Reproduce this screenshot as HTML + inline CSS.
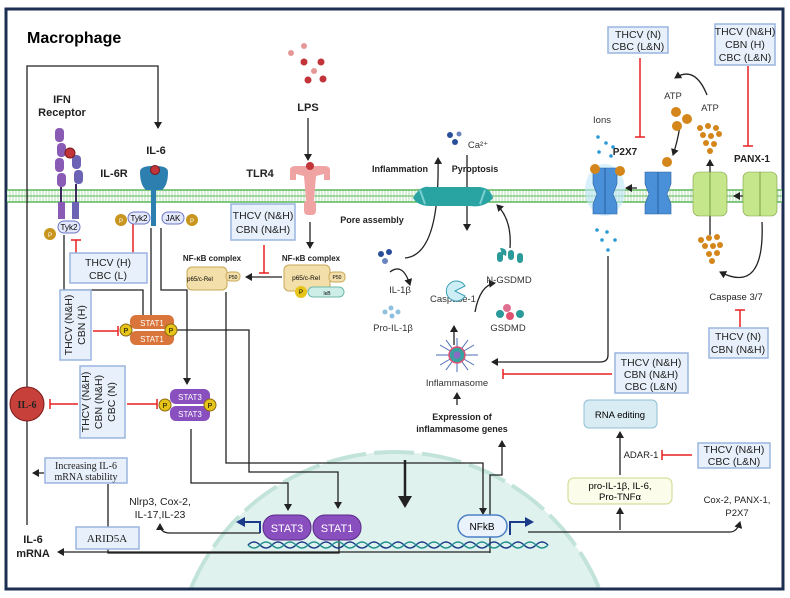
<!DOCTYPE html>
<html><head><meta charset="utf-8"><style>
html,body{margin:0;padding:0;background:#fff;width:790px;height:598px;overflow:hidden}
svg{display:block;font-family:"Liberation Sans",sans-serif}
.b{font-weight:bold}
</style></head><body>
<svg width="790" height="598" viewBox="0 0 790 598" xmlns="http://www.w3.org/2000/svg">
<defs>
<marker id="a" markerWidth="8" markerHeight="8" refX="6" refY="4" orient="auto" markerUnits="userSpaceOnUse"><path d="M0,0 L7,4 L0,8 z" fill="#222"/></marker>
<marker id="bl" markerWidth="10" markerHeight="10" refX="7" refY="5" orient="auto" markerUnits="userSpaceOnUse"><path d="M0,0 L9,5 L0,10 z" fill="#1a3a8a"/></marker>
<marker id="big" markerWidth="14" markerHeight="14" refX="10" refY="7" orient="auto" markerUnits="userSpaceOnUse"><path d="M0,0 L12,7 L0,14 z" fill="#222"/></marker>
<pattern id="hatch" width="3" height="10" patternUnits="userSpaceOnUse"><rect width="3" height="10" fill="#fff"/><line x1="1" y1="0" x2="1" y2="10" stroke="#9fd39f" stroke-width="0.8"/></pattern>
</defs>
<rect x="0" y="0" width="790" height="598" fill="#fff"/>
<!-- nucleus -->
<path d="M190.6,589 A221,221 0 0 1 599.4,589 Z" fill="#e0f2ee"/>
<path d="M190.6,589 A221,221 0 0 1 599.4,589" fill="none" stroke="#c2e3da" stroke-width="4" stroke-dasharray="40 8"/>
<!-- frame -->
<rect x="6" y="9" width="777" height="580" fill="none" stroke="#1c2f52" stroke-width="3"/>
<!-- membrane -->
<rect x="7" y="190" width="775" height="12" fill="url(#hatch)"/>
<line x1="7" y1="190" x2="782" y2="190" stroke="#5cb85c" stroke-width="1.5"/>
<line x1="7" y1="196" x2="782" y2="196" stroke="#5cb85c" stroke-width="1"/>
<line x1="7" y1="202" x2="782" y2="202" stroke="#5cb85c" stroke-width="1.5"/>

<text x="27" y="43" class="b" font-size="16">Macrophage</text>

<g fill="none" stroke="#222" stroke-width="1.3">
<polyline points="27,525 27,66 158,66 158,128" marker-end="url(#a)"/>
<line x1="308" y1="118" x2="308" y2="160" marker-end="url(#a)"/>
<line x1="310" y1="222" x2="310" y2="248" marker-end="url(#a)"/>
<line x1="282" y1="277" x2="246" y2="277" marker-end="url(#a)"/>
<polyline points="64,235 64,290 143,290 143,324" marker-end="url(#a)"/>
<polyline points="151,228 151,324" marker-end="url(#a)"/>
<polyline points="161,228 161,290 187,290 187,384" marker-end="url(#a)"/>
<polyline points="177,330 249,330 249,472 338,472 338,508" marker-end="url(#a)"/>
<polyline points="191,429 191,483 288,483 288,510" marker-end="url(#a)"/>
<polyline points="226,292 226,463 483,463 483,514" marker-end="url(#a)"/>
<polyline points="108,484 108,553 339,553 339,537"/>
<line x1="490" y1="552" x2="58" y2="552" marker-end="url(#a)"/>
<line x1="44" y1="473" x2="33" y2="473" marker-end="url(#a)"/>
<path d="M260,533 L170,533 Q160,533 160,524" marker-end="url(#a)"/>
<polyline points="490,515 490,475 502,475 502,441" marker-end="url(#a)"/>
<polyline points="490,537 490,553"/>
<line x1="457" y1="405" x2="457" y2="393" marker-end="url(#a)"/>
<line x1="454" y1="345" x2="454" y2="326" marker-end="url(#a)"/>
<path d="M608,256 L608,355 Q608,362 600,362 L492,362" marker-end="url(#a)"/>
<line x1="620" y1="530" x2="620" y2="508" marker-end="url(#a)"/>
<line x1="620" y1="475" x2="620" y2="432" marker-end="url(#a)"/>
<path d="M528,532 L730,532 Q737,532 740,522" marker-end="url(#a)"/>
<path d="M405,258 Q440,255 438,158" marker-end="url(#a)"/>
<line x1="467" y1="155" x2="467" y2="230" marker-end="url(#a)"/>
<path d="M390,272 Q403,262 410,285" marker-end="url(#a)"/>
<path d="M475,312 Q480,285 495,283" marker-end="url(#a)"/>
<path d="M510,248 Q512,220 497,205" marker-end="url(#a)"/>
<path d="M707,95 Q695,65 675,78" marker-end="url(#a)"/>
<path d="M680,125 Q678,140 673,155" marker-end="url(#a)"/>
<line x1="710" y1="235" x2="710" y2="160" marker-end="url(#a)"/>
<line x1="745" y1="196" x2="734" y2="196" marker-end="url(#a)"/>
<line x1="637" y1="188" x2="626" y2="188" marker-end="url(#a)"/>
<path d="M762,222 Q765,295 720,272" marker-end="url(#a)"/>
</g>
<line x1="405" y1="460" x2="405" y2="506" stroke="#222" stroke-width="2.5" marker-end="url(#big)"/>
<polyline points="260,533 260,522 238,522" fill="none" stroke="#1a3a8a" stroke-width="2" marker-end="url(#bl)"/>
<polyline points="510,535 510,522 532,522" fill="none" stroke="#1a3a8a" stroke-width="2" marker-end="url(#bl)"/>

<g stroke="#e82020" stroke-width="1.5" fill="none">
<path d="M76,253 V240 M71,240 H81"/>
<path d="M133,253 V218 M128,218 H138"/>
<path d="M93,331 H118 M118,326 V336"/>
<path d="M78,404 H50 M50,399 V409"/>
<path d="M127,404 H157 M157,399 V409"/>
<path d="M264,245 V273 M259,273 H269"/>
<path d="M640,58 V137 M635,137 H645"/>
<path d="M748,66 V146 M743,146 H753"/>
<path d="M612,374 H503 M503,369 V379"/>
<path d="M740,327 V310 M735,310 H745"/>
<path d="M692,455 H662 M662,450 V460"/>
</g>

<g fill="#e8f1fb" stroke="#9ab5df" stroke-width="1.5">
<rect x="70" y="253" width="77" height="30"/>
<rect x="60" y="290" width="31" height="70"/>
<rect x="80" y="366" width="45" height="72"/>
<rect x="231" y="204" width="64" height="36"/>
<rect x="608" y="27" width="60" height="26"/>
<rect x="715" y="24" width="60" height="41"/>
<rect x="615" y="353" width="73" height="40"/>
<rect x="709" y="328" width="59" height="30"/>
<rect x="698" y="443" width="72" height="25"/>
<rect x="45" y="458" width="82" height="25"/>
<rect x="76" y="527" width="63" height="22"/>
</g>
<g font-size="10.5" text-anchor="middle" fill="#222">
<text x="108" y="266">THCV (H)</text><text x="108" y="279">CBC (L)</text>
<text transform="translate(72,325) rotate(-90)">THCV (N&amp;H)</text><text transform="translate(85,325) rotate(-90)">CBN (H)</text>
<text transform="translate(89,402) rotate(-90)">THCV (N&amp;H)</text><text transform="translate(102,402) rotate(-90)">CBN (N&amp;H)</text><text transform="translate(115,402) rotate(-90)">CBC (N)</text>
<text x="263" y="219">THCV (N&amp;H)</text><text x="263" y="233">CBN (N&amp;H)</text>
<text x="638" y="38">THCV (N)</text><text x="638" y="50">CBC (L&amp;N)</text>
<text x="745" y="35">THCV (N&amp;H)</text><text x="745" y="48">CBN (H)</text><text x="745" y="61">CBC (L&amp;N)</text>
<text x="651" y="366">THCV (N&amp;H)</text><text x="651" y="378">CBN (N&amp;H)</text><text x="651" y="390">CBC (L&amp;N)</text>
<text x="738" y="340">THCV (N)</text><text x="738" y="353">CBN (N&amp;H)</text>
<text x="734" y="453">THCV (N&amp;H)</text><text x="734" y="465">CBC (L&amp;N)</text>
</g>
<g font-family="Liberation Serif,serif" font-size="10" text-anchor="middle" fill="#222">
<text x="86" y="469">Increasing IL-6</text><text x="86" y="480">mRNA stability</text>
<text x="107" y="542" font-size="11">ARID5A</text>
</g>

<g class="b" font-size="11" text-anchor="middle" fill="#222">
<text x="62" y="103">IFN</text><text x="62" y="116">Receptor</text>
<text x="156" y="154">IL-6</text><text x="114" y="177">IL-6R</text>
<text x="308" y="111">LPS</text><text x="260" y="177">TLR4</text>
<text x="33" y="543">IL-6</text><text x="33" y="557">mRNA</text>
<text x="625" y="155" font-size="10">P2X7</text><text x="752" y="162" font-size="10">PANX-1</text>
</g>
<g class="b" font-size="8" text-anchor="middle" fill="#222">
<text x="212" y="261">NF-κB complex</text><text x="311" y="261">NF-κB complex</text>
</g>
<g class="b" font-size="9" text-anchor="middle" fill="#222">
<text x="400" y="172">Inflammation</text><text x="475" y="172">Pyroptosis</text>
<text x="372" y="223">Pore assembly</text>
<text x="462" y="420">Expression of</text><text x="462" y="432">inflammasome genes</text>
</g>
<g font-size="9.5" text-anchor="middle" fill="#333">
<text x="478" y="148">Ca²⁺</text>
<text x="400" y="293">IL-1β</text><text x="393" y="331">Pro-IL-1β</text>
<text x="453" y="302">Caspase-1</text><text x="509" y="283">N-GSDMD</text><text x="508" y="331">GSDMD</text>
<text x="457" y="386">Inflammasome</text>
<text x="602" y="123">Ions</text><text x="673" y="99">ATP</text><text x="710" y="111">ATP</text>
<text x="736" y="300" fill="#222">Caspase 3/7</text>
<text x="160" y="505" fill="#222" font-size="10.5">Nlrp3, Cox-2,</text><text x="160" y="518" fill="#222" font-size="10.5">IL-17,IL-23</text>
<text x="737" y="503" fill="#222">Cox-2, PANX-1,</text><text x="737" y="516" fill="#222">P2X7</text>
<text x="641" y="458" fill="#222">ADAR-1</text>
</g>

<rect x="584" y="400" width="73" height="28" rx="5" fill="#d9ecf3" stroke="#8fc0d3"/>
<text x="620" y="418" font-size="9.5" text-anchor="middle">RNA editing</text>
<rect x="568" y="478" width="104" height="26" rx="6" fill="#fbfcea" stroke="#c9d98a"/>
<text x="620" y="489" font-size="9.5" text-anchor="middle">pro-IL-1β, IL-6,</text>
<text x="620" y="500" font-size="9.5" text-anchor="middle">Pro-TNFα</text>

<g fill="#c0343a"><circle cx="304" cy="62" r="3.5"/><circle cx="321" cy="62" r="3.5"/><circle cx="308" cy="80" r="3.5"/><circle cx="323" cy="79" r="3.5"/></g>
<g fill="#e59898"><circle cx="291" cy="53" r="3"/><circle cx="304" cy="46" r="3"/><circle cx="314" cy="71" r="3"/></g>

<g fill="#8a5bb5"><rect x="55" y="128" width="9" height="14" rx="4"/><rect x="57" y="143" width="9" height="14" rx="4"/><rect x="55" y="158" width="9" height="14" rx="4"/><rect x="57" y="173" width="9" height="14" rx="4"/>
<rect x="72" y="155" width="9" height="14" rx="4" fill="#6c63b5"/><rect x="74" y="170" width="9" height="14" rx="4" fill="#6c63b5"/>
<rect x="58" y="202" width="7" height="17" fill="#8a5bb5"/><rect x="72" y="202" width="7" height="17" fill="#6c63b5"/></g>
<line x1="61" y1="187" x2="61" y2="202" stroke="#3b2a5a" stroke-width="2"/><line x1="76" y1="184" x2="76" y2="202" stroke="#3b2a5a" stroke-width="2"/>
<circle cx="70" cy="153" r="5" fill="#c0343a" stroke="#7a1a1a"/>
<rect x="58" y="221" width="22" height="12" rx="6" fill="#e3e8fa" stroke="#6c76c5"/><text x="69" y="230" font-size="8" text-anchor="middle">Tyk2</text>
<circle cx="50" cy="234" r="6" fill="#c8961e"/><text x="50" y="237" font-size="6" fill="#fff" text-anchor="middle">P</text>

<path d="M140,172 Q140,166 152,166 L152,190 L146,190 Q140,185 140,172z M168,172 Q168,166 156,166 L156,190 L162,190 Q168,185 168,172z" fill="#2d7fb0"/>
<rect x="151" y="166" width="5" height="60" fill="#2d7fb0"/>
<circle cx="155" cy="170" r="4.5" fill="#c0343a" stroke="#7a1a1a"/>
<rect x="128" y="212" width="22" height="12" rx="6" fill="#e3e8fa" stroke="#6c76c5"/><text x="139" y="221" font-size="8" text-anchor="middle">Tyk2</text>
<rect x="162" y="212" width="22" height="12" rx="6" fill="#e3e8fa" stroke="#6c76c5"/><text x="173" y="221" font-size="8" text-anchor="middle">JAK</text>
<circle cx="121" cy="220" r="6" fill="#c8961e"/><text x="121" y="223" font-size="6" fill="#fff" text-anchor="middle">P</text>
<circle cx="192" cy="220" r="6" fill="#c8961e"/><text x="192" y="223" font-size="6" fill="#fff" text-anchor="middle">P</text>

<path d="M290,170 Q290,166 296,166 L324,166 Q330,166 330,170 L330,180 L324,180 L324,174 L316,176 L314,200 L306,200 L304,176 L296,174 L296,180 L290,180z" fill="#f0a3a3"/>
<rect x="304" y="200" width="12" height="15" rx="4" fill="#f0a3a3"/>
<circle cx="310" cy="166" r="4" fill="#c0343a"/>

<rect x="187" y="267" width="40" height="23" rx="5" fill="#f3dfaa" stroke="#c9a85a"/><text x="200" y="281" font-size="6" text-anchor="middle">p65/c-Rel</text>
<rect x="226" y="272" width="14" height="9" rx="4" fill="#f3dfaa" stroke="#c9a85a"/><text x="233" y="279" font-size="5" text-anchor="middle">P50</text>
<rect x="284" y="265" width="46" height="26" rx="5" fill="#f3dfaa" stroke="#c9a85a"/><text x="306" y="280" font-size="6.5" text-anchor="middle">p65/c-Rel</text>
<rect x="329" y="272" width="16" height="10" rx="4" fill="#f3dfaa" stroke="#c9a85a"/><text x="337" y="279" font-size="5" text-anchor="middle">P50</text>
<rect x="308" y="287" width="36" height="10" rx="5" fill="#cdeee6" stroke="#6cb9a8"/><text x="327" y="295" font-size="5" text-anchor="middle">IκB</text>
<circle cx="301" cy="292" r="6" fill="#e6c41a"/><text x="301" y="294" font-size="6" text-anchor="middle">P</text>

<rect x="130" y="315" width="44" height="14" rx="6" fill="#d9743a"/><rect x="130" y="331" width="44" height="14" rx="6" fill="#d9743a"/>
<text x="152" y="326" font-size="8" fill="#fff" text-anchor="middle">STAT1</text><text x="152" y="342" font-size="8" fill="#fff" text-anchor="middle">STAT1</text>
<circle cx="126" cy="330" r="6" fill="#e6c41a" stroke="#8a6a10"/><text x="126" y="333" font-size="7" text-anchor="middle">P</text>
<circle cx="171" cy="330" r="6" fill="#e6c41a" stroke="#8a6a10"/><text x="171" y="333" font-size="7" text-anchor="middle">P</text>
<rect x="170" y="389" width="40" height="15" rx="6" fill="#8a4fbf"/><rect x="170" y="406" width="40" height="15" rx="6" fill="#8a4fbf"/>
<text x="190" y="400" font-size="8" fill="#fff" text-anchor="middle">STAT3</text><text x="190" y="417" font-size="8" fill="#fff" text-anchor="middle">STAT3</text>
<circle cx="165" cy="405" r="6" fill="#e6c41a" stroke="#8a6a10"/><text x="165" y="408" font-size="7" text-anchor="middle">P</text>
<circle cx="210" cy="405" r="6" fill="#e6c41a" stroke="#8a6a10"/><text x="210" y="408" font-size="7" text-anchor="middle">P</text>

<circle cx="27" cy="404" r="17" fill="#c8403a" stroke="#7a1a1a"/>
<text x="27" y="408" font-family="Liberation Serif,serif" font-weight="bold" font-size="10" fill="#222" text-anchor="middle">IL-6</text>

<path d="M248,545 q6,-6 12,0 t12,0 t12,0 t12,0 t12,0 t12,0 t12,0 t12,0 t12,0 t12,0 t12,0 t12,0 t12,0 t12,0 t12,0 t12,0 t12,0 t12,0 t12,0 t12,0 t12,0 t12,0 t12,0 t12,0 t12,0" fill="none" stroke="#1a3a8a" stroke-width="1.5"/>
<path d="M248,545 q6,6 12,0 t12,0 t12,0 t12,0 t12,0 t12,0 t12,0 t12,0 t12,0 t12,0 t12,0 t12,0 t12,0 t12,0 t12,0 t12,0 t12,0 t12,0 t12,0 t12,0 t12,0 t12,0 t12,0 t12,0 t12,0" fill="none" stroke="#1f8f8f" stroke-width="1.5"/>
<rect x="263" y="515" width="48" height="25" rx="12" fill="#8a4fbf" stroke="#5a2a8a"/><text x="287" y="532" font-size="11" fill="#fff" text-anchor="middle">STAT3</text>
<rect x="313" y="515" width="48" height="25" rx="12" fill="#8a4fbf" stroke="#5a2a8a"/><text x="337" y="532" font-size="11" fill="#fff" text-anchor="middle">STAT1</text>
<rect x="458" y="515" width="49" height="22" rx="11" fill="#eaf3fc" stroke="#4a7fc5" stroke-width="1.5"/><text x="482" y="530" font-size="10" text-anchor="middle">NFkB</text>

<path d="M413,198 Q420,185 430,187 L478,187 Q490,187 493,198 Q485,208 470,206 L430,206 Q418,206 413,198z" fill="#2aa3a3"/>
<g stroke="#7ad0d0" stroke-width="2"><line x1="420" y1="190" x2="425" y2="204"/><line x1="485" y1="190" x2="480" y2="204"/></g>
<g fill="#2a4f9a"><circle cx="450" cy="135" r="3"/><circle cx="455" cy="142" r="3"/><circle cx="459" cy="134" r="2.5" fill="#6a84c0"/></g>
<g fill="#2a4f9a"><circle cx="381" cy="254" r="3"/><circle cx="389" cy="252" r="3"/><circle cx="385" cy="261" r="3" fill="#6a84c0"/></g>
<g fill="#8fc0e0"><circle cx="385" cy="312" r="2.5"/><circle cx="391" cy="308" r="2.5"/><circle cx="392" cy="316" r="2.5"/><circle cx="398" cy="312" r="2.5"/></g>
<path d="M455,291 L465,286 A10,10 0 1 0 465,296 z" fill="#cdeef5" stroke="#3aa0b5"/>
<g fill="#2a9a9a"><path d="M500,248 q8,0 6,8 l-4,-2z"/><rect x="497" y="252" width="6" height="10" rx="3"/><rect x="508" y="250" width="6" height="10" rx="3"/><rect x="517" y="253" width="6" height="10" rx="3"/></g>
<g><circle cx="507" cy="308" r="4" fill="#e07090"/><circle cx="500" cy="314" r="4" fill="#2a9a9a"/><circle cx="510" cy="316" r="4" fill="#e05070"/><circle cx="520" cy="314" r="4" fill="#2a9a9a"/></g>
<g stroke="#4a6ab5" stroke-width="1"><line x1="440" y1="345" x2="474" y2="365"/><line x1="440" y1="365" x2="474" y2="345"/><line x1="457" y1="338" x2="457" y2="372"/><line x1="436" y1="355" x2="478" y2="355"/><line x1="446" y1="340" x2="468" y2="370"/><line x1="468" y1="340" x2="446" y2="370"/></g>
<circle cx="457" cy="355" r="8" fill="#3aa0a0" stroke="#e05070" stroke-width="1.5"/><circle cx="457" cy="355" r="3.5" fill="#8a6ac5"/>

<ellipse cx="605" cy="190" rx="20" ry="26" fill="#bfe6fb" opacity="0.6"/>
<path d="M593,168 h24 v16 l-4,10 4,10 v10 h-24 v-10 l4,-10 -4,-10z" fill="#4a90d9" stroke="#2a60a0" stroke-width="0.6"/>
<line x1="605" y1="168" x2="605" y2="214" stroke="#2a60a0"/>
<circle cx="595" cy="169" r="5" fill="#d4861a"/><circle cx="620" cy="171" r="5" fill="#d4861a"/>
<path d="M645,172 h26 v12 l-4,10 4,10 v10 h-26 v-10 l4,-10 -4,-10z" fill="#4a90d9" stroke="#2a60a0" stroke-width="0.6"/>
<line x1="658" y1="172" x2="658" y2="214" stroke="#2a60a0"/>
<circle cx="667" cy="162" r="5" fill="#d4861a"/>
<g fill="#2a9ad5"><circle cx="598" cy="137" r="1.8"/><circle cx="606" cy="143" r="1.8"/><circle cx="613" cy="147" r="1.8"/><circle cx="599" cy="152" r="1.8"/><circle cx="611" cy="156" r="1.8"/><circle cx="597" cy="230" r="1.8"/><circle cx="607" cy="232" r="1.8"/><circle cx="602" cy="240" r="1.8"/><circle cx="615" cy="240" r="1.8"/><circle cx="608" cy="250" r="1.8"/></g>
<rect x="693" y="172" width="34" height="44" rx="6" fill="#c5e68a" stroke="#7aa040" stroke-width="0.6"/><line x1="710" y1="172" x2="710" y2="216" stroke="#7aa040"/>
<rect x="743" y="172" width="34" height="44" rx="6" fill="#c5e68a" stroke="#7aa040" stroke-width="0.6"/><line x1="760" y1="172" x2="760" y2="216" stroke="#7aa040"/>
<g fill="#d4861a"><circle cx="676" cy="112" r="5"/><circle cx="687" cy="119" r="5"/><circle cx="677" cy="126" r="5"/>
<circle cx="700" cy="128" r="3"/><circle cx="708" cy="126" r="3"/><circle cx="716" cy="128" r="3"/><circle cx="703" cy="135" r="3"/><circle cx="711" cy="136" r="3"/><circle cx="719" cy="134" r="3"/><circle cx="706" cy="143" r="3"/><circle cx="714" cy="144" r="3"/><circle cx="710" cy="151" r="3"/>
<circle cx="701" cy="240" r="3"/><circle cx="709" cy="238" r="3"/><circle cx="717" cy="237" r="3"/><circle cx="705" cy="246" r="3"/><circle cx="713" cy="246" r="3"/><circle cx="720" cy="245" r="3"/><circle cx="709" cy="254" r="3"/><circle cx="717" cy="253" r="3"/><circle cx="712" cy="261" r="3"/></g>
</svg>
</body></html>
